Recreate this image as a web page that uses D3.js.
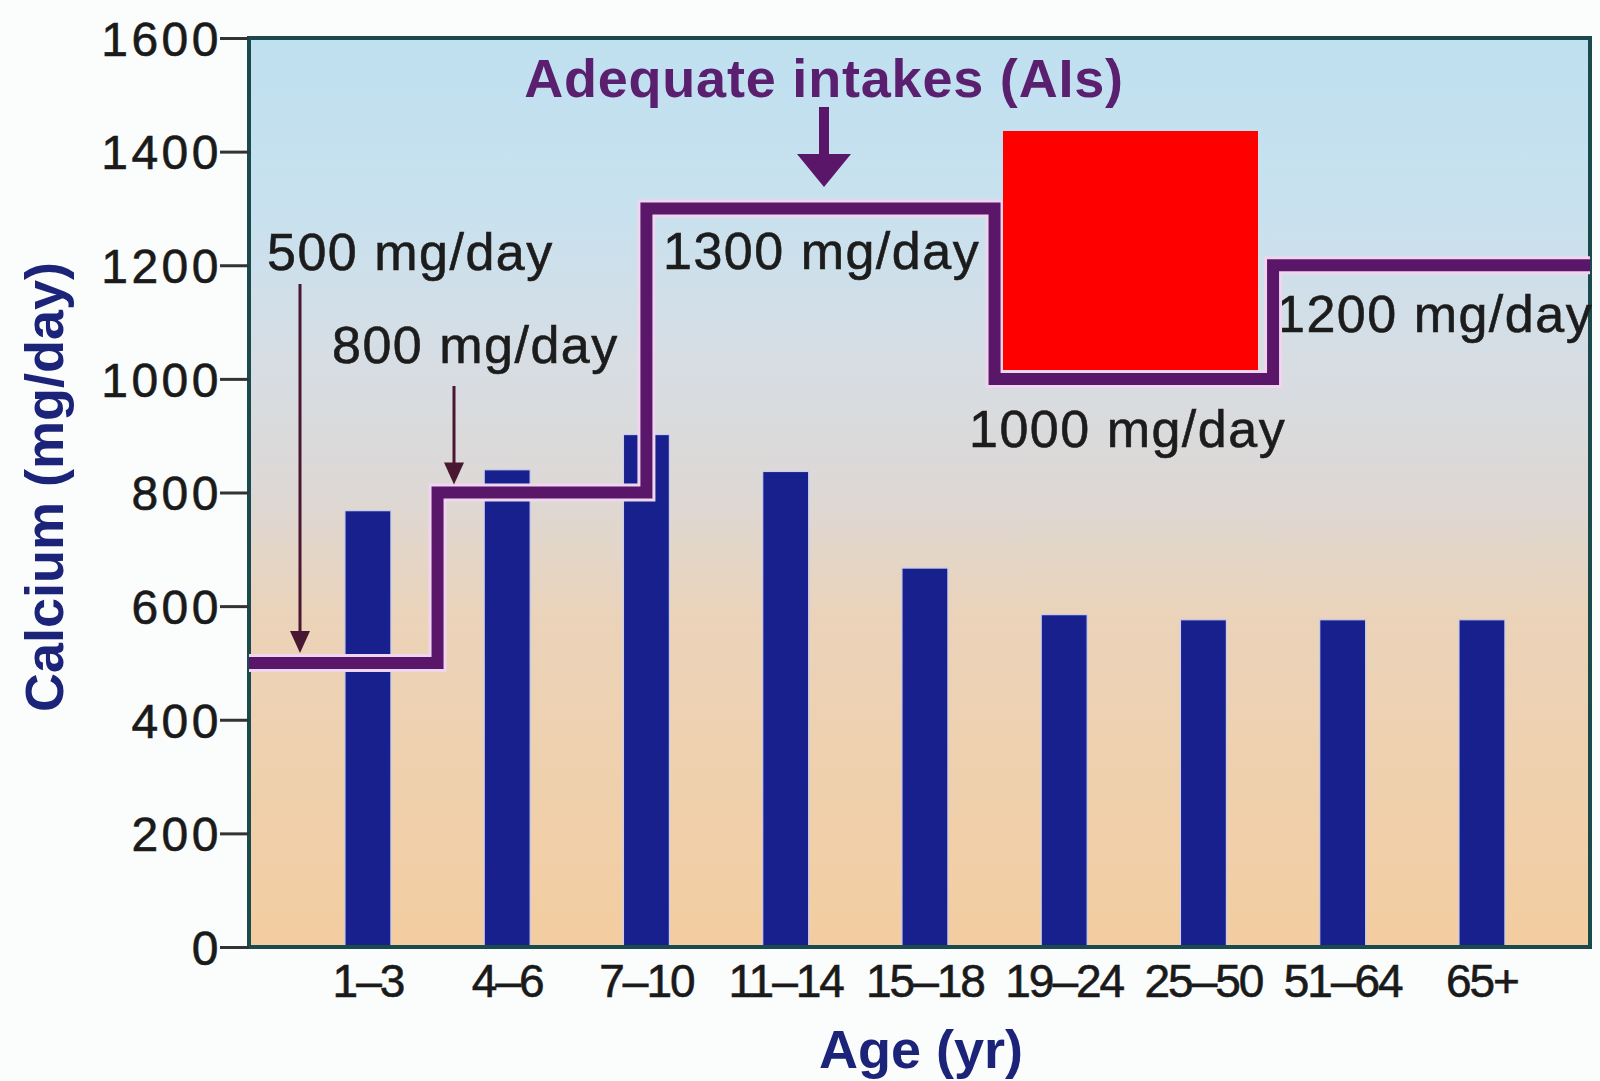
<!DOCTYPE html>
<html>
<head>
<meta charset="utf-8">
<script src="https://cdn.jsdelivr.net/npm/d3@7"></script>
<style>
  html, body { margin: 0; padding: 0; background: #fbfcfc; }
  svg { display: block; }
  text { font-family: "Liberation Sans", Arial, Helvetica, sans-serif; }
</style>
</head>
<body>
<svg id="chart" width="1600" height="1081"></svg>
<script>
// ---- data ----
const ageGroups = ["1\u20133", "4\u20136", "7\u201310", "11\u201314", "15\u201318", "19\u201324", "25\u201350", "51\u201364", "65+"];
const calciumIntake = [768, 840, 902, 837, 667, 585, 576, 576, 576];
const yTicks = [0, 200, 400, 600, 800, 1000, 1200, 1400, 1600];
// Adequate intake step levels and where they change (in category units: 0 = centre of first group)
const aiLevels = [500, 800, 1300, 1000, 1200];
const aiBreaks = [0.5, 2, 4.5, 6.5];
const aiLabels = aiLevels.map(v => v + " mg/day");

// ---- layout ----
const plot = { left: 249, right: 1590, top: 38, bottom: 947 };

const svg = d3.select("#chart");
const defs = svg.append("defs");

const grad = defs.append("linearGradient").attr("id", "bg")
  .attr("x1", 0).attr("y1", 0).attr("x2", 0).attr("y2", 1);
[["0%", "#bfe0f0"], ["20%", "#c9e1ee"], ["36%", "#d7dde3"], ["50%", "#ddd8d5"],
 ["64%", "#ebd3b9"], ["100%", "#f3cda0"]].forEach(([o, c]) =>
  grad.append("stop").attr("offset", o).attr("stop-color", c));

const x = d3.scaleBand().domain(ageGroups)
  .range([plot.left, plot.right])
  .paddingInner(0.67).paddingOuter(0.65).align(0.53);
const y = d3.scaleLinear().domain([0, 1600]).range([plot.bottom, plot.top]);
const xc = u => x(ageGroups[0]) + x.bandwidth() / 2 + u * x.step();

// plot background
svg.append("rect")
  .attr("x", plot.left).attr("y", plot.top)
  .attr("width", plot.right - plot.left).attr("height", plot.bottom - plot.top)
  .attr("fill", "url(#bg)");

// bars
svg.append("g").selectAll("rect").data(ageGroups).join("rect")
  .attr("x", d => x(d))
  .attr("y", (d, i) => y(calciumIntake[i]))
  .attr("width", x.bandwidth())
  .attr("height", (d, i) => y(0) - y(calciumIntake[i]))
  .attr("fill", "#17208c")
  .attr("stroke", "#c9cdee").attr("stroke-width", 1.2);

// frame
svg.append("rect")
  .attr("x", plot.left).attr("y", plot.top)
  .attr("width", plot.right - plot.left).attr("height", plot.bottom - plot.top)
  .attr("fill", "none").attr("stroke", "#1b4a4c").attr("stroke-width", 4);

// y axis
const yAxis = svg.append("g").attr("transform", `translate(${plot.left},0)`)
  .call(d3.axisLeft(y).tickValues(yTicks).tickSize(29).tickPadding(-2).tickFormat(d3.format("d")));
yAxis.select(".domain").remove();
yAxis.selectAll(".tick line").attr("stroke", "#333").attr("stroke-width", 3);
yAxis.selectAll(".tick text")
  .attr("fill", "#1a1a1a").style("font-size", "48px").attr("dy", "0.36em")
  .style("letter-spacing", "3.5px")
  .attr("stroke", "#1a1a1a").attr("stroke-width", 0.6);

// x axis labels
const xAxis = svg.append("g").attr("transform", `translate(0,${plot.bottom})`)
  .call(d3.axisBottom(x).tickSize(0).tickPadding(0));
xAxis.select(".domain").remove();
xAxis.selectAll(".tick text")
  .attr("fill", "#1a1a1a").style("font-size", "46px")
  .attr("dy", 0).attr("y", 50)
  .style("letter-spacing", "-2px")
  .attr("stroke", "#1a1a1a").attr("stroke-width", 0.6);

// AI annotation labels
const labelPos = [
  { x: 267, y: 270 }, { x: 332, y: 363 }, { x: 663, y: 269 }, { x: 969, y: 447 }, { x: 1276, y: 332 }
];
svg.append("g").selectAll("text").data(aiLabels).join("text")
  .attr("x", (d, i) => labelPos[i].x).attr("y", (d, i) => labelPos[i].y)
  .attr("fill", "#1c1c1c").style("font-size", "52px")
  .style("letter-spacing", "1.5px")
  .attr("stroke", "#1c1c1c").attr("stroke-width", 0.6)
  .text(d => d);

// AI step line
const pts = [];
pts.push([plot.left, y(aiLevels[0])]);
aiBreaks.forEach((b, i) => {
  pts.push([xc(b), y(aiLevels[i])]);
  pts.push([xc(b), y(aiLevels[i + 1])]);
});
pts.push([plot.right, y(aiLevels[aiLevels.length - 1])]);
const line = d3.line();
svg.append("path").attr("d", line(pts)).attr("fill", "none")
  .attr("stroke", "#efd6ee").attr("stroke-width", 18).attr("stroke-linejoin", "miter");
svg.append("path").attr("d", line(pts)).attr("fill", "none")
  .attr("stroke", "#5a176a").attr("stroke-width", 12).attr("stroke-linejoin", "miter");

// thin arrows to 500 and 800 levels
function thinArrow(xp, y0, y1) {
  svg.append("line").attr("x1", xp).attr("x2", xp).attr("y1", y0).attr("y2", y1 - 14)
    .attr("stroke", "#4a1733").attr("stroke-width", 3);
  svg.append("path")
    .attr("d", `M${xp - 10},${y1 - 22} L${xp + 10},${y1 - 22} L${xp},${y1} Z`)
    .attr("fill", "#4a1733");
}
thinArrow(300, 284, y(aiLevels[0]) - 10);
thinArrow(454, 386, y(aiLevels[1]) - 8);

// title "Adequate intakes (AIs)" with thick arrow
svg.append("text").attr("x", 824).attr("y", 97).attr("text-anchor", "middle")
  .attr("fill", "#5a1f6e").style("font-size", "54px").style("font-weight", "bold")
  .style("letter-spacing", "0.8px")
  .text("Adequate intakes (AIs)");
svg.append("path")
  .attr("d", "M819,107 L829,107 L829,154 L851,154 L824,187 L797,154 L819,154 Z")
  .attr("fill", "#5a176a");

// axis titles
svg.append("text").attr("transform", "translate(63,487) rotate(-90)")
  .attr("text-anchor", "middle").attr("fill", "#1b2478")
  .style("font-size", "54px").style("font-weight", "bold")
  .text("Calcium (mg/day)");
svg.append("text").attr("x", 921).attr("y", 1068).attr("text-anchor", "middle")
  .attr("fill", "#1b2478").style("font-size", "54px").style("font-weight", "bold")
  .text("Age (yr)");

// redaction block present in the reference image
svg.append("rect").attr("x", 1003).attr("y", 131).attr("width", 255).attr("height", 239)
  .attr("fill", "#ff0000");
</script>
</body>
</html>
